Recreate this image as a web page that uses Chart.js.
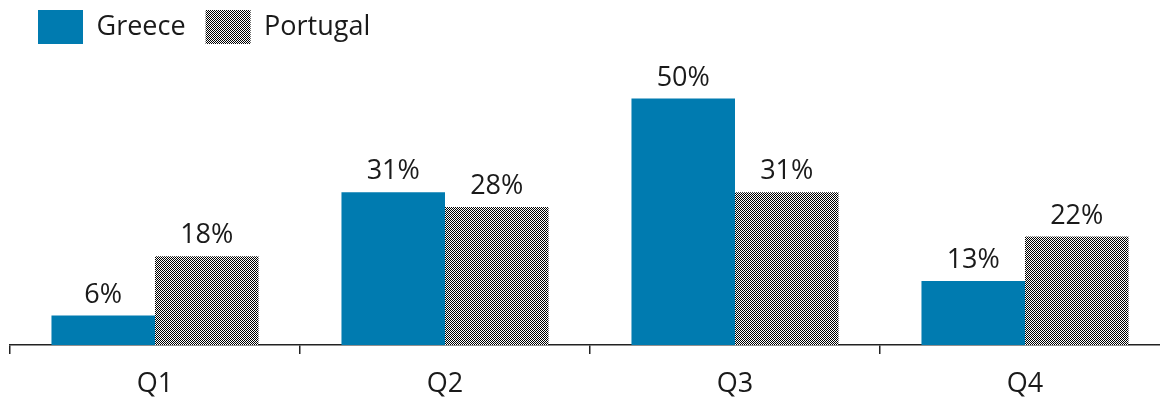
<!DOCTYPE html>
<html lang="en">
<head>
    <meta charset="UTF-8" />
    <title>Greece vs Portugal</title>
    <style>
        html, body {
            margin: 0;
            padding: 0;
            background: #fff;
            overflow: hidden;
        }
        #chart-container {
            width: 1170px;
            height: 401px;
        }
    </style>
    <script src="https://cdn.jsdelivr.net/npm/chart.js"></script>
</head>
<body>
<div id="chart-container">
    <canvas id="quarterChart"></canvas>
</div>

<script>
  const categories = ["Q1", "Q2", "Q3", "Q4"];
  const greeceValues = [6, 31, 50, 13];
  const portugalValues = [18, 28, 31, 22];
  const seriesNames = ["Greece", "Portugal"];

  const FONT = "'Open Sans', 'Noto Sans', sans-serif";

  // 1px black/white checkerboard
  function makeChecker() {
    const c = document.createElement("canvas");
    c.width = 2;
    c.height = 2;
    const g = c.getContext("2d");
    g.fillStyle = "#fff";
    g.fillRect(0, 0, 2, 2);
    g.fillStyle = "#000";
    g.fillRect(0, 0, 1, 1);
    g.fillRect(1, 1, 1, 1);
    return g.createPattern(c, "repeat");
  }

  const checker = makeChecker();

  // percentage labels above each bar
  const valueLabels = {
    id: "valueLabels",
    afterDatasetsDraw(chart) {
      const ctx = chart.ctx;
      ctx.save();
      ctx.font = "27px " + FONT;
      ctx.fillStyle = "#1a1a1a";
      ctx.textAlign = "center";
      ctx.textBaseline = "bottom";
      chart.data.datasets.forEach((ds, i) => {
        chart.getDatasetMeta(i).data.forEach((bar, j) => {
          ctx.fillText(ds.data[j] + "%", bar.x, bar.y - 7);
        });
      });
      ctx.restore();
    },
  };

  // nudge the legend to where the original sits
  const legendShift = {
    id: "legendShift",
    afterLayout(chart) {
      chart.legend.left += 8;
      chart.legend.top -= 10;
    },
  };

  const ctx = document.getElementById("quarterChart").getContext("2d");
  new Chart(ctx, {
    type: "bar",
    data: {
      labels: categories,
      datasets: [
        {
          label: seriesNames[0],
          data: greeceValues,
          backgroundColor: "#007BB0",
          borderWidth: 0,
        },
        {
          label: seriesNames[1],
          data: portugalValues,
          backgroundColor: checker,
          borderWidth: 0,
        },
      ],
    },
    options: {
      responsive: true,
      maintainAspectRatio: false,
      animation: false,
      devicePixelRatio: 1,
      layout: {
        padding: { left: 10, right: 0, top: 0, bottom: 0 },
      },
      datasets: {
        bar: {
          categoryPercentage: 0.714,
          barPercentage: 1.0,
        },
      },
      scales: {
        x: {
          afterFit(scale) {
            scale.height = 56;
          },
          grid: {
            display: true,
            drawOnChartArea: false,
            drawTicks: true,
            tickLength: 9,
            offset: true,
            color: "#222",
            lineWidth: 1.5,
          },
          border: {
            display: true,
            color: "#222",
            width: 1.5,
          },
          ticks: {
            color: "#1a1a1a",
            padding: 14,
            font: { family: FONT, size: 27 },
          },
        },
        y: {
          display: false,
          min: 0,
          max: 57,
        },
      },
      plugins: {
        legend: {
          display: true,
          position: "top",
          align: "start",
          labels: {
            boxWidth: 45,
            boxHeight: 34,
            padding: 20,
            color: "#1a1a1a",
            font: { family: FONT, size: 27 },
          },
        },
        tooltip: { enabled: false },
      },
    },
    plugins: [valueLabels, legendShift],
  });
</script>
</body>
</html>
